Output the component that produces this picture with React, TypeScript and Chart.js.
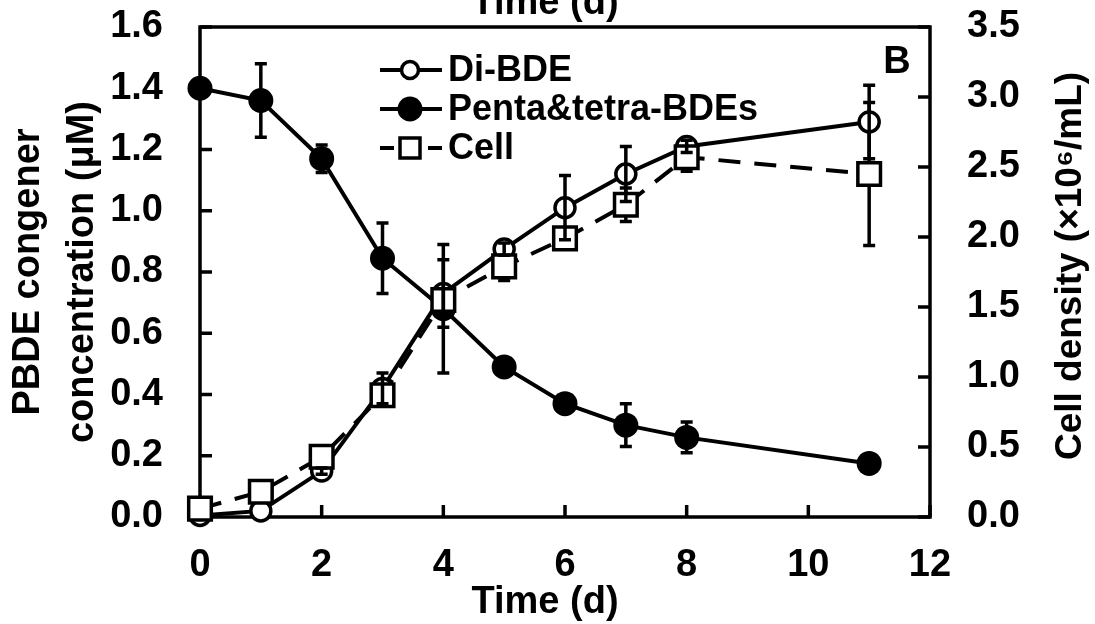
import React, { useEffect, useRef } from "react";
import { Chart, registerables } from "chart.js";

Chart.register(...registerables);

// ---------------- data ----------------
const days = [0, 1, 2, 3, 4, 5, 6, 7, 8, 11];

const diBDE = [0.005, 0.02, 0.15, 0.42, 0.73, 0.875, 1.01, 1.12, 1.21, 1.29];
const diBDEErr = [0, 0, 0.01, 0.05, 0.11, 0.02, 0.105, 0.09, 0.02, 0.12];

const pentaTetra = [1.4, 1.36, 1.17, 0.845, 0.68, 0.49, 0.37, 0.3, 0.26, 0.175];
const pentaTetraErr = [0, 0.12, 0.045, 0.115, 0.21, 0, 0.02, 0.07, 0.05, 0];

const cellDensity = [0.06, 0.18, 0.43, 0.87, 1.55, 1.79, 1.99, 2.23, 2.57, 2.45];
const cellDensityErr = [0, 0.07, 0.03, 0.04, 0.05, 0.1, 0.05, 0.12, 0.1, 0.51];

const xTickValues = [0, 2, 4, 6, 8, 10, 12];
const leftTickValues = [0, 0.2, 0.4, 0.6, 0.8, 1.0, 1.2, 1.4, 1.6];
const rightTickValues = [0, 0.5, 1.0, 1.5, 2.0, 2.5, 3.0, 3.5];

const xTitle = "Time (d)";
const leftTitle = ["PBDE congener", "concentration (μM)"];
const rightTitle = "Cell density (×10⁶/mL)";
const panelLabel = "B";
const legendLabels = ["Di-BDE", "Penta&tetra-BDEs", "Cell"];

// ---------------- styling ----------------
const FONT = "'Liberation Sans', Arial, Helvetica, sans-serif";
const BLACK = "#000";

function toPoints(vals: number[]) {
  return days.map((d, i) => ({ x: d, y: vals[i] }));
}

function drawErrorBars(chart: any, layer: string) {
  const ctx = chart.ctx;
  const xs = chart.scales.x;
  chart.data.datasets.forEach((ds: any) => {
    if (!ds.errors || ds.errorLayer !== layer) return;
    const ys = chart.scales[ds.yAxisID];
    ctx.save();
    ctx.strokeStyle = BLACK;
    ctx.lineWidth = 3.5;
    ctx.setLineDash([]);
    ds.data.forEach((p: any, i: number) => {
      const e = ds.errors[i];
      if (!e) return;
      const px = xs.getPixelForValue(p.x);
      const t = ys.getPixelForValue(p.y + e);
      const b = ys.getPixelForValue(p.y - e);
      ctx.beginPath();
      ctx.moveTo(px, t);
      ctx.lineTo(px, b);
      ctx.moveTo(px - 6, t);
      ctx.lineTo(px + 6, t);
      ctx.moveTo(px - 6, b);
      ctx.lineTo(px + 6, b);
      ctx.stroke();
    });
    ctx.restore();
  });
}

const decorPlugin = {
  id: "decor",
  beforeDatasetsDraw(chart: any) {
    const ctx = chart.ctx;
    const a = chart.chartArea;
    ctx.save();
    ctx.strokeStyle = BLACK;
    ctx.lineWidth = 3.5;
    ctx.strokeRect(a.left, a.top, a.right - a.left, a.bottom - a.top);
    const tl = 12;
    const { x, y, y1 } = chart.scales;
    ctx.beginPath();
    x.ticks.forEach((t: any) => {
      const p = x.getPixelForValue(t.value);
      ctx.moveTo(p, a.bottom);
      ctx.lineTo(p, a.bottom - tl);
    });
    y.ticks.forEach((t: any) => {
      const p = y.getPixelForValue(t.value);
      ctx.moveTo(a.left, p);
      ctx.lineTo(a.left + tl, p);
    });
    y1.ticks.forEach((t: any) => {
      const p = y1.getPixelForValue(t.value);
      ctx.moveTo(a.right, p);
      ctx.lineTo(a.right - tl, p);
    });
    ctx.stroke();
    ctx.restore();
    drawErrorBars(chart, "before");
  },
  afterDatasetsDraw(chart: any) {
    drawErrorBars(chart, "after");
    const ctx = chart.ctx;
    const a = chart.chartArea;
    ctx.save();
    ctx.fillStyle = BLACK;
    ctx.strokeStyle = BLACK;

    // legend
    const rows = [70, 109, 148];
    const lx0 = 380;
    const lx1 = 442;
    const mx = 410;
    ctx.lineWidth = 4;
    // row 0: Di-BDE
    ctx.beginPath();
    ctx.moveTo(lx0, rows[0]);
    ctx.lineTo(lx1, rows[0]);
    ctx.stroke();
    ctx.beginPath();
    ctx.arc(mx, rows[0], 8.5, 0, Math.PI * 2);
    ctx.fillStyle = "#fff";
    ctx.fill();
    ctx.lineWidth = 3.5;
    ctx.stroke();
    // row 1: Penta
    ctx.lineWidth = 4;
    ctx.beginPath();
    ctx.moveTo(lx0, rows[1]);
    ctx.lineTo(lx1, rows[1]);
    ctx.stroke();
    ctx.beginPath();
    ctx.arc(mx, rows[1], 12.5, 0, Math.PI * 2);
    ctx.fillStyle = BLACK;
    ctx.fill();
    // row 2: Cell
    ctx.beginPath();
    ctx.moveTo(lx0, rows[2]);
    ctx.lineTo(lx0 + 14, rows[2]);
    ctx.moveTo(lx1 - 14, rows[2]);
    ctx.lineTo(lx1, rows[2]);
    ctx.stroke();
    ctx.fillStyle = "#fff";
    ctx.fillRect(mx - 10, rows[2] - 10, 20, 20);
    ctx.lineWidth = 3.5;
    ctx.strokeRect(mx - 10, rows[2] - 10, 20, 20);

    ctx.fillStyle = BLACK;
    ctx.font = `bold 36px ${FONT}`;
    ctx.textAlign = "left";
    ctx.textBaseline = "middle";
    legendLabels.forEach((l, i) => ctx.fillText(l, 448, rows[i] + 1));

    // panel label
    ctx.font = `bold 38px ${FONT}`;
    ctx.textAlign = "center";
    ctx.fillText(panelLabel, 897, 63);

    // right axis title, reading bottom-to-top
    ctx.save();
    ctx.translate(1071, (a.top + a.bottom) / 2 - 6);
    ctx.rotate(-Math.PI / 2);
    ctx.font = `bold 37px ${FONT}`;
    ctx.textAlign = "center";
    ctx.textBaseline = "middle";
    ctx.fillText(rightTitle, 0, 0);
    ctx.restore();

    // x titles (bottom, and the cropped one on top)
    ctx.font = `bold 38px ${FONT}`;
    ctx.textAlign = "center";
    ctx.textBaseline = "alphabetic";
    ctx.fillText(xTitle, 545, 613);
    ctx.fillText(xTitle, 545, 14);
    ctx.restore();
  },
};

function noPad(s: any) {
  s.paddingTop = 0;
  s.paddingBottom = 0;
  s.paddingLeft = 0;
  s.paddingRight = 0;
}

export default function App() {
  const ref = useRef<HTMLCanvasElement | null>(null);

  useEffect(() => {
    if (!ref.current) return;
    const tickFont = { family: FONT, size: 38, weight: "bold" as const };
    const chart = new Chart(ref.current, {
      type: "line",
      data: {
        datasets: [
          {
            label: legendLabels[2],
            data: toPoints(cellDensity),
            yAxisID: "y1",
            borderColor: BLACK,
            borderWidth: 4,
            borderDash: [22, 14],
            pointStyle: "rect",
            pointRadius: 16,
            pointBorderWidth: 3.5,
            pointBackgroundColor: "#fff",
            pointBorderColor: BLACK,
            order: 0,
            clip: false,
            errors: cellDensityErr,
            errorLayer: "before",
          } as any,
          {
            label: legendLabels[0],
            data: toPoints(diBDE),
            yAxisID: "y",
            borderColor: BLACK,
            borderWidth: 4,
            pointStyle: "circle",
            pointRadius: 10,
            pointBorderWidth: 3.5,
            pointBackgroundColor: "#fff",
            pointBorderColor: BLACK,
            order: 1,
            clip: false,
            errors: diBDEErr,
            errorLayer: "after",
          } as any,
          {
            label: legendLabels[1],
            data: toPoints(pentaTetra),
            yAxisID: "y",
            borderColor: BLACK,
            borderWidth: 4,
            pointStyle: "circle",
            pointRadius: 12.5,
            pointBorderWidth: 0,
            pointBackgroundColor: BLACK,
            pointBorderColor: BLACK,
            order: 2,
            clip: false,
            errors: pentaTetraErr,
            errorLayer: "after",
          } as any,
        ],
      },
      options: {
        responsive: false,
        animation: false,
        events: [],
        layout: { padding: { top: 27, left: 0, right: 0, bottom: 0 } },
        plugins: {
          legend: { display: false },
          tooltip: { enabled: false },
          title: { display: false },
        },
        scales: {
          x: {
            type: "linear",
            position: "bottom",
            min: 0,
            max: 12,
            afterBuildTicks: (s: any) => {
              s.ticks = xTickValues.map((v) => ({ value: v }));
            },
            afterFit: (s: any) => {
              s.height = 107;
              noPad(s);
            },
            grid: { display: false, drawTicks: false },
            border: { display: false },
            ticks: {
              font: tickFont,
              color: BLACK,
              padding: 26,
              autoSkip: false,
              maxRotation: 0,
              callback: (v: any) => String(v),
            },
          },
          y: {
            type: "linear",
            position: "left",
            min: 0,
            max: 1.6,
            afterBuildTicks: (s: any) => {
              s.ticks = leftTickValues.map((v) => ({ value: v }));
            },
            afterFit: (s: any) => {
              s.width = 200;
              noPad(s);
            },
            grid: { display: false, drawTicks: false },
            border: { display: false },
            ticks: {
              font: tickFont,
              color: BLACK,
              padding: 37,
              autoSkip: false,
              callback: (v: any) => Number(v).toFixed(1),
            },
            title: {
              display: true,
              text: leftTitle,
              color: BLACK,
              font: { family: FONT, size: 38, weight: "bold", lineHeight: 1.42 },
              padding: { top: 2, bottom: 0 },
            },
          },
          y1: {
            type: "linear",
            position: "right",
            min: 0,
            max: 3.5,
            afterBuildTicks: (s: any) => {
              s.ticks = rightTickValues.map((v) => ({ value: v }));
            },
            afterFit: (s: any) => {
              s.width = 165;
              noPad(s);
            },
            grid: { display: false, drawTicks: false },
            border: { display: false },
            ticks: {
              font: tickFont,
              color: BLACK,
              padding: 37,
              autoSkip: false,
              callback: (v: any) => Number(v).toFixed(1),
            },
            title: { display: false },
          },
        },
      },
      plugins: [decorPlugin],
    });
    return () => chart.destroy();
  }, []);

  return (
    <canvas
      ref={ref}
      width={1095}
      height={624}
      style={{ position: "absolute", left: 0, top: 0, display: "block", background: "#fff" }}
    />
  );
}
